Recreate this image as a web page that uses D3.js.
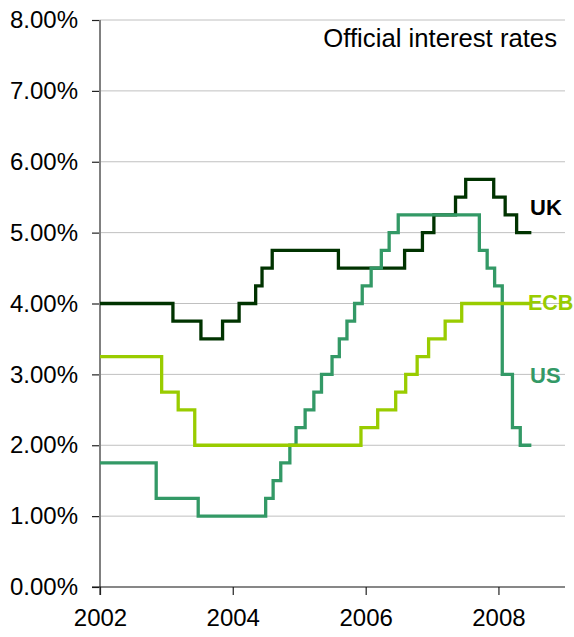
<!DOCTYPE html>
<html>
<head>
<meta charset="utf-8">
<script src="https://cdn.jsdelivr.net/npm/d3@7"></script>
<style>
  html, body { margin: 0; padding: 0; background: #fff; }
  svg { display: block; font-family: "Liberation Sans", Arial, sans-serif; }
</style>
</head>
<body>
<svg id="chart" width="574" height="637"></svg>
<script>
// Policy rate changes (date of change, new rate in %)
const ukDates  = ["2002-01-01","2003-02-06","2003-07-10","2003-11-06","2004-02-05","2004-05-06","2004-06-10","2004-08-05","2005-08-04","2006-08-03","2006-11-09","2007-01-11","2007-05-10","2007-07-05","2007-12-06","2008-02-07","2008-04-10"];
const ukRates  = [4.00, 3.75, 3.50, 3.75, 4.00, 4.25, 4.50, 4.75, 4.50, 4.75, 5.00, 5.25, 5.50, 5.75, 5.50, 5.25, 5.00];

const usDates  = ["2002-01-01","2002-11-06","2003-06-25","2004-06-30","2004-08-10","2004-09-21","2004-11-10","2004-12-14","2005-02-02","2005-03-22","2005-05-03","2005-06-30","2005-08-09","2005-09-20","2005-11-01","2005-12-13","2006-01-31","2006-03-28","2006-05-10","2006-06-29","2007-09-18","2007-10-31","2007-12-11","2008-01-22","2008-03-18","2008-04-30"];
const usRates  = [1.75, 1.25, 1.00, 1.25, 1.50, 1.75, 2.00, 2.25, 2.50, 2.75, 3.00, 3.25, 3.50, 3.75, 4.00, 4.25, 4.50, 4.75, 5.00, 5.25, 4.75, 4.50, 4.25, 3.00, 2.25, 2.00];

const ecbDates = ["2002-01-01","2002-12-06","2003-03-07","2003-06-06","2005-12-06","2006-03-08","2006-06-15","2006-08-09","2006-10-11","2006-12-13","2007-03-14","2007-06-13"];
const ecbRates = [3.25, 2.75, 2.50, 2.00, 2.25, 2.50, 2.75, 3.00, 3.25, 3.50, 3.75, 4.00];

const seriesEnd = "2008-06-30";
const yTicks = [0, 1, 2, 3, 4, 5, 6, 7, 8];
const xTickYears = [2002, 2004, 2006, 2008];
const title = "Official interest rates";

const parse = d3.timeParse("%Y-%m-%d");
const svg = d3.select("#chart");

const plotLeft = 100, plotRight = 565, plotTop = 20, plotBottom = 587;

const x = d3.scaleTime()
  .domain([new Date(2002, 0, 1), new Date(2009, 0, 1)])
  .range([plotLeft, plotRight]);
const y = d3.scaleLinear().domain([0, 8]).range([plotBottom, plotTop]);

// Gridlines
svg.append("g")
  .selectAll("line")
  .data(yTicks.filter(d => d > 0))
  .join("line")
  .attr("x1", plotLeft).attr("x2", plotRight)
  .attr("y1", d => y(d)).attr("y2", d => y(d))
  .attr("stroke", "#c0c0c0")
  .attr("stroke-width", 1);

// Y axis
const yAxis = svg.append("g")
  .attr("transform", `translate(${plotLeft},0)`)
  .call(d3.axisLeft(y).tickValues(yTicks).tickSize(8).tickPadding(14)
    .tickFormat(d => d.toFixed(2) + "%"));
yAxis.select(".domain").remove();
yAxis.selectAll(".tick line").attr("stroke", "#222").attr("stroke-width", 1.2);
yAxis.selectAll(".tick text")
  .attr("font-size", 24)
  .attr("fill", "#000")
  .attr("font-family", "Liberation Sans, Arial, sans-serif");
svg.append("line")
  .attr("x1", plotLeft).attr("x2", plotLeft)
  .attr("y1", plotTop).attr("y2", plotBottom + 8)
  .attr("stroke", "#808080").attr("stroke-width", 2);

// X axis
const xAxis = svg.append("g")
  .attr("transform", `translate(0,${plotBottom})`)
  .call(d3.axisBottom(x)
    .tickValues(xTickYears.map(yr => new Date(yr, 0, 1)))
    .tickSize(8).tickPadding(14)
    .tickFormat(d3.timeFormat("%Y")));
xAxis.select(".domain").remove();
xAxis.selectAll(".tick line").attr("stroke", "#222").attr("stroke-width", 1.2);
xAxis.selectAll(".tick text")
  .attr("font-size", 24)
  .attr("fill", "#000")
  .attr("font-family", "Liberation Sans, Arial, sans-serif");
svg.append("line")
  .attr("x1", plotLeft - 8).attr("x2", plotRight)
  .attr("y1", plotBottom).attr("y2", plotBottom)
  .attr("stroke", "#111").attr("stroke-width", 1.2);

// Step lines
const line = d3.line()
  .x(d => x(d.date))
  .y(d => y(d.rate))
  .curve(d3.curveStepAfter);

function toPoints(dates, rates) {
  const pts = dates.map((d, i) => ({ date: parse(d), rate: rates[i] }));
  pts.push({ date: parse(seriesEnd), rate: rates[rates.length - 1] });
  return pts;
}

const series = [
  { name: "UK",  pts: toPoints(ukDates, ukRates),   color: "#003300", labelColor: "#000",    labelY: 5.25, labelX: 530, labelSize: 22 },
  { name: "US",  pts: toPoints(usDates, usRates),   color: "#339966", labelColor: "#339966", labelY: 2.88, labelX: 530, labelSize: 22 },
  { name: "ECB", pts: toPoints(ecbDates, ecbRates), color: "#99cc00", labelColor: "#99cc00", labelY: 3.91, labelX: 528, labelSize: 21.5 }
];

svg.append("g")
  .selectAll("path")
  .data(series)
  .join("path")
  .attr("d", d => line(d.pts))
  .attr("fill", "none")
  .attr("stroke", d => d.color)
  .attr("stroke-width", 3.3)
  .attr("stroke-linejoin", "miter");

// Series labels
svg.append("g")
  .selectAll("text")
  .data(series)
  .join("text")
  .attr("x", d => d.labelX)
  .attr("y", d => y(d.labelY))
  .attr("font-size", d => d.labelSize)
  .attr("font-weight", "bold")
  .attr("fill", d => d.labelColor)
  .text(d => d.name);

// Title
svg.append("text")
  .attr("x", 557).attr("y", 47)
  .attr("text-anchor", "end")
  .attr("font-size", 25.7)
  .attr("fill", "#000")
  .text(title);
</script>
</body>
</html>
